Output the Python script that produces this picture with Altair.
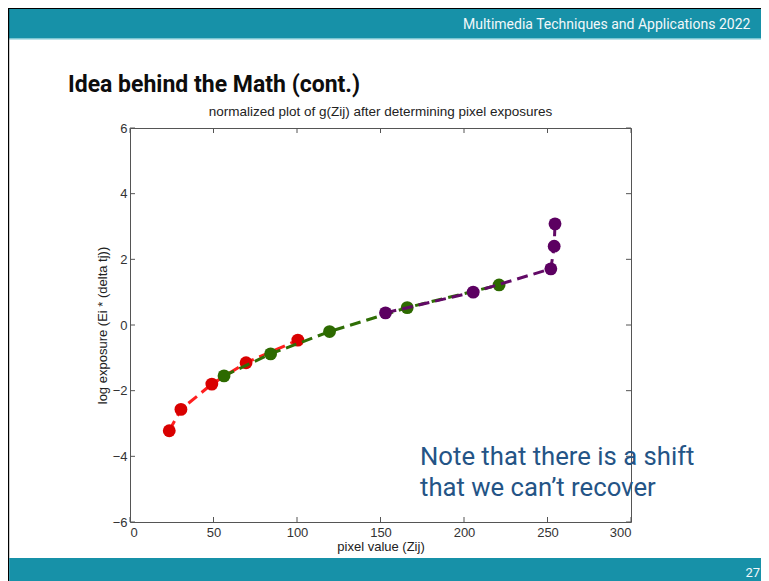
import altair as alt
import pandas as pd

# ---- data ----
red_x = [23.5, 30.5, 49.0, 69.5, 100.5]
red_y = [-3.22, -2.57, -1.80, -1.15, -0.46]
green_x = [56.3, 84.2, 119.5, 166.0, 221.0]
green_y = [-1.55, -0.88, -0.20, 0.53, 1.22]
purple_x = [153.0, 205.5, 252.0, 254.0, 254.5]
purple_y = [0.37, 1.00, 1.71, 2.40, 3.08]

series_names = ["red", "green", "purple"]
line_colors = ["#ff1f1f", "#2f6e05", "#620a66"]
point_colors = ["#d90000", "#2d6a00", "#5c0061"]

x_ticks = [0, 50, 100, 150, 200, 250, 300]
y_ticks = [-6, -4, -2, 0, 2, 4, 6]

chart_title = "normalized plot of g(Zij) after determining pixel exposures"
x_title = "pixel value (Zij)"
y_title = "log exposure (Ei * (delta tj))"
slide_title = "Idea behind the Math (cont.)"
header_text = "Multimedia Techniques and Applications 2022"
note_lines = ["Note that there is a shift", "that we can\u2019t recover"]
page_no = "27"

TEAL = "#1791a8"
W, H = 501, 394

rows = []
for name, xs, ys in [("red", red_x, red_y), ("green", green_x, green_y), ("purple", purple_x, purple_y)]:
    for i, (xv, yv) in enumerate(zip(xs, ys)):
        rows.append({"series": name, "x": xv, "y": yv, "i": i})
df = pd.DataFrame(rows)

xscale = alt.Scale(domain=[0, 300], nice=False, zero=False)
yscale = alt.Scale(domain=[-6, 6], nice=False, zero=False)

xaxis = alt.Axis(values=x_ticks, title=x_title, labelPadding=4, titlePadding=1)
yaxis = alt.Axis(values=y_ticks, title=y_title, labelPadding=3, titlePadding=3)

one = alt.Data(values=[{}])


def rect(x, x2, y, y2, color):
    return alt.Chart(one).mark_rect(color=color).encode(
        x=alt.value(x), x2=alt.value(x2), y=alt.value(y), y2=alt.value(y2)
    )


def label(txt, x, y, size, color, font="Roboto", weight="normal", align="left"):
    return alt.Chart(one).mark_text(
        font=font, fontSize=size, fontWeight=weight, color=color, align=align, baseline="alphabetic"
    ).encode(x=alt.value(x), y=alt.value(y), text=alt.value(txt))


tick_df = pd.DataFrame({"x": x_ticks})
ytick_df = pd.DataFrame({"y": y_ticks})
tick_color = "#555555"

layers = [
    alt.Chart(tick_df).mark_rule(color=tick_color).encode(
        x=alt.X("x:Q", scale=xscale, axis=xaxis), y=alt.value(H), y2=alt.value(H - 5)),
    alt.Chart(tick_df).mark_rule(color=tick_color).encode(
        x=alt.X("x:Q", scale=xscale, axis=xaxis), y=alt.value(0), y2=alt.value(5)),
    alt.Chart(ytick_df).mark_rule(color=tick_color).encode(
        y=alt.Y("y:Q", scale=yscale, axis=yaxis), x=alt.value(0), x2=alt.value(5)),
    alt.Chart(ytick_df).mark_rule(color=tick_color).encode(
        y=alt.Y("y:Q", scale=yscale, axis=yaxis), x=alt.value(W), x2=alt.value(W - 5)),
]

for name, lc, pc in zip(series_names, line_colors, point_colors):
    base = alt.Chart(df).transform_filter(alt.datum.series == name)
    layers.append(base.mark_line(color=lc, strokeWidth=3, strokeDash=[11, 6]).encode(
        x=alt.X("x:Q", scale=xscale, axis=xaxis),
        y=alt.Y("y:Q", scale=yscale, axis=yaxis),
        order="i:O"))
    layers.append(base.mark_point(filled=True, shape="circle", size=165, color=pc, opacity=1).encode(
        x=alt.X("x:Q", scale=xscale, axis=xaxis),
        y=alt.Y("y:Q", scale=yscale, axis=yaxis)))

layers += [
    rect(-122, 631, -120, -90, TEAL),
    rect(-122, 631, -90, -88.5, "#7cc6d2"),
    rect(-122, 631, -120, -119, "#000000"),
    rect(-122, -120.8, -120, 453, "#000000"),
    rect(-120.8, 631, 430, 453, TEAL),
    label(header_text, 333, -99, 14, "#f2f8fa"),
    label(slide_title, -62, -36, 23, "#0d0d0d", weight="bold"),
    label(page_no, 630, 449, 13, "#f2f8fa", align="right"),
    label(chart_title, W / 2, -12, 13.5, "#222222", font="Liberation Sans", align="center"),
    label(note_lines[0], 290, 337, 25.7, "#245486"),
    label(note_lines[1], 290, 368, 25.7, "#245486"),
]

chart = alt.layer(*layers).properties(
    width=W, height=H,
    autosize=alt.AutoSizeParams(type="none"),
    padding={"left": 122, "top": 120, "right": 130, "bottom": 59},
    background="white",
).configure_view(stroke="#555555", strokeWidth=1).configure_axis(
    domain=False, ticks=False, grid=False,
    labelFont="Liberation Sans", labelFontSize=13, labelColor="#333333",
    titleFont="Liberation Sans", titleFontSize=13, titleFontWeight="normal", titleColor="#222222",
)

chart.save("out.html", embed_options={"renderer": "svg", "actions": False})
